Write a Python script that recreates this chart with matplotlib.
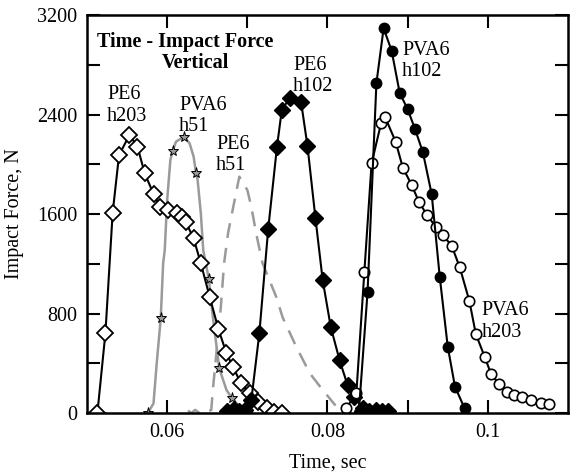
import numpy as np
import matplotlib.pyplot as plt

plt.rcParams['font.family'] = ['Liberation Serif', 'DejaVu Serif']

# PE6 h203 - open diamonds
pe6_h203_t = [0.0513, 0.0523, 0.0532, 0.0540, 0.0553, 0.0563, 0.0572, 0.0583, 0.0591,
              0.0601, 0.0612, 0.0618, 0.0623, 0.0633, 0.0642, 0.0653, 0.0664, 0.0674,
              0.0682, 0.0692, 0.0703, 0.0713, 0.0724, 0.0733, 0.0743]
pe6_h203_f = [0, 643, 1608, 2074, 2235, 2141, 1927, 1761, 1659,
              1630, 1606, 1578, 1538, 1404, 1204, 935, 673, 480,
              372, 239, 158, 91, 38, 11, 0]

# PVA6 h51 - grey line, star markers on part of the samples
pva6_h51_t = [0.0576, 0.0583, 0.0587, 0.0592, 0.0595, 0.0597, 0.0600, 0.0604, 0.0607,
              0.0611, 0.0621, 0.0628, 0.0633, 0.0636, 0.0638, 0.0642, 0.0645, 0.0652,
              0.0657, 0.0665, 0.0674, 0.0681, 0.0690, 0.0696]
pva6_h51_f = [0, 78, 402, 761, 1204, 1310, 1712, 2034, 2109,
              2181, 2222, 2168, 2061, 1932, 1873, 1606, 1310, 1075,
              774, 359, 185, 118, 51, 24]
pva6_h51_star_t = [0.0576, 0.0592, 0.0607, 0.0621, 0.0636, 0.0652, 0.0665, 0.0681, 0.0696]
pva6_h51_star_f = [0, 761, 2109, 2222, 1932, 1075, 359, 118, 24]

# PE6 h51 - grey dashed
pe6_h51_t = [0.0626, 0.0630, 0.0635, 0.0640, 0.0644, 0.0650, 0.0655, 0.0657, 0.0661,
             0.0667, 0.0671, 0.0676, 0.0680, 0.0690, 0.0700, 0.0705, 0.0711, 0.0719,
             0.0736, 0.0744, 0.0761, 0.0778, 0.0794, 0.0801, 0.0810]
pe6_h51_f = [20, 0, 25, 0, 15, 10, 24, 185, 453,
             855, 1204, 1447, 1578, 1900, 1793, 1659, 1445, 1204,
             935, 770, 533, 319, 185, 131, 60]

# PE6 h102 - filled diamonds
pe6_h102_t = [0.0675, 0.0683, 0.0690, 0.0697, 0.0705, 0.0715, 0.0726, 0.0737, 0.0743,
              0.0753, 0.0767, 0.0775, 0.0785, 0.0794, 0.0804, 0.0815, 0.0825, 0.0833,
              0.0844, 0.0852, 0.0860, 0.0868, 0.0876]
pe6_h102_f = [20, 30, 15, 25, 105, 641, 1477, 2141, 2436,
              2535, 2503, 2149, 1565, 1069, 694, 426, 225, 131,
              40, 20, 25, 15, 20]

# PVA6 h102 - filled circles
pva6_h102_t = [0.0839, 0.0850, 0.0861, 0.0870, 0.0880, 0.0890, 0.0900, 0.0909, 0.0919,
               0.0930, 0.0940, 0.0950, 0.0959, 0.0971]
pva6_h102_f = [2, 975, 2651, 3093, 2913, 2575, 2442, 2286, 2096,
               1758, 1096, 533, 212, 38]

# PVA6 h203 - open circles
pva6_h203_t = [0.0823, 0.0836, 0.0846, 0.0855, 0.0867, 0.0872, 0.0885, 0.0894, 0.0905,
               0.0914, 0.0924, 0.0935, 0.0944, 0.0955, 0.0965, 0.0977, 0.0985, 0.0996,
               0.1004, 0.1014, 0.1024, 0.1033, 0.1043, 0.1054, 0.1066, 0.1076]
pva6_h203_f = [38, 158, 1136, 2007, 2334, 2377, 2181, 1972, 1833,
               1699, 1592, 1498, 1431, 1343, 1171, 900, 635, 453,
               314, 233, 171, 145, 131, 105, 83, 72]

grey = '#9a9a9a'
fs = 14.5

fig = plt.figure(figsize=(5.7, 4.73), dpi=100)
ax = fig.add_axes([0.1526, 0.1268, 0.8439, 0.8415])

ax.plot(pe6_h51_t, pe6_h51_f, color=grey, lw=1.8, ls=(0, (6, 4)))
ax.plot(pva6_h51_t, pva6_h51_f, color=grey, lw=1.8)
ax.plot(pva6_h51_star_t, pva6_h51_star_f, ls='none', marker='*', ms=8,
        mfc=grey, mec='black', mew=0.7)
ax.plot(pe6_h203_t, pe6_h203_f, color='black', lw=1.5, marker='D', ms=8.5,
        mfc='white', mec='black', mew=1.3)
ax.plot(pe6_h102_t, pe6_h102_f, color='black', lw=1.5, marker='D', ms=8.5,
        mfc='black', mec='black')
ax.plot(pva6_h203_t, pva6_h203_f, color='black', lw=1.5, marker='o', ms=7.5,
        mfc='white', mec='black', mew=1.2)
ax.plot(pva6_h102_t, pva6_h102_f, color='black', lw=1.5, marker='o', ms=7.5,
        mfc='black', mec='black')

ax.set_xlim(0.05, 0.11)
ax.set_ylim(0, 3200)
ax.set_xticks([0.06, 0.08, 0.1])
ax.set_xticklabels(['0.06', '0.08', '0.1'])
ax.set_xticks([0.07, 0.09], minor=True)
ax.set_yticks([0, 800, 1600, 2400, 3200])
ax.set_yticks([400, 1200, 2000, 2800], minor=True)
ax.tick_params(which='both', direction='in', top=True, right=True, width=1.5,
               length=9.5, labelsize=fs, pad=7)
for s in ax.spines.values():
    s.set_linewidth(1.8)

ax.set_xlabel('Time, sec', fontsize=fs, va='center')
ax.set_ylabel('Impact Force, N', fontsize=fs, va='center')
ax.xaxis.set_label_coords(0.5, -0.126)
ax.yaxis.set_label_coords(-0.150, 0.5)

ax.text(0.0622, 2985, 'Time - Impact Force', fontsize=fs, fontweight='bold',
        ha='center', va='center')
ax.text(0.0635, 2811, 'Vertical', fontsize=fs, fontweight='bold',
        ha='center', va='center')

lbl = dict(fontsize=fs, ha='left', va='center', linespacing=1.15)
ax.text(0.0525, 2472, 'PE6\nh203', **lbl)
ax.text(0.0615, 2388, 'PVA6\nh51', **lbl)
ax.text(0.0661, 2078, 'PE6\nh51', **lbl)
ax.text(0.0757, 2713, 'PE6\nh102', **lbl)
ax.text(0.0893, 2830, 'PVA6\nh102', **lbl)
ax.text(0.0992, 736, 'PVA6\nh203', **lbl)

fig.savefig('out.png', dpi=100)
